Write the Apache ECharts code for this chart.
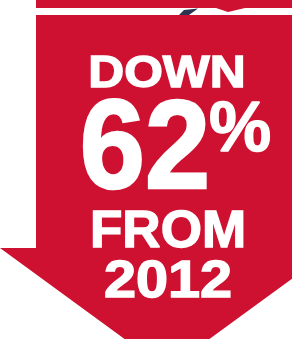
<!DOCTYPE html>
<html>
<head>
<meta charset="utf-8">
<script src="https://cdn.jsdelivr.net/npm/echarts@6/dist/echarts.min.js"></script>
<style>
  html, body { margin: 0; padding: 0; background: #fff; }
  #chart { width: 292px; height: 339px; }
</style>
</head>
<body>
<div id="chart"></div>
<script>
// values
var words = ['DOWN', 'FROM'];
var pctChange = [62];
var unit = ['%'];
var baseYear = [2012];

var RED = '#ce1130';
var NAVY = '#2b3552';
var FONT = '"Liberation Sans", Arial, Helvetica, sans-serif';

var chart = echarts.init(document.getElementById('chart'), null, { renderer: 'canvas' });

// helper: one line of white bold text, centred on (x, y)
// a thin white stroke makes the face look heavier, like the original
function label(text, x, y, size, sx, stroke) {
    return {
        type: 'text',
        x: x,
        y: y,
        scaleX: sx || 1,
        z: 10,
        style: {
            text: text,
            x: 0,
            y: 0,
            align: 'center',
            verticalAlign: 'middle',
            fill: '#fff',
            stroke: '#fff',
            lineWidth: stroke || 1.2,
            font: 'bold ' + size + 'px ' + FONT
        }
    };
}

var option = {
    animation: false,
    graphic: [
        // band at the top
        {
            type: 'rect',
            shape: { x: 36, y: 0, width: 260, height: 8 },
            style: { fill: RED }
        },
        // small navy wedge in the gap
        {
            type: 'polygon',
            shape: { points: [[179, 15], [184, 10], [198, 8.5], [189, 15]] },
            style: { fill: NAVY }
        },
        {
            type: 'polygon',
            shape: { points: [[216, 8], [228, 12], [245, 8]] },
            style: { fill: RED }
        },
        // the down arrow
        {
            type: 'polygon',
            shape: {
                points: [[36, 15], [298, 15], [298, 248], [334, 248],
                         [167, 370], [0, 248], [36, 248]]
            },
            style: { fill: RED }
        },
        label(words[0], 167, 75, 44, 1.13, 1.4),
        label(String(pctChange[0]), 145, 153, 126, 0.93, 2.5),
        label(unit[0], 240, 132, 70, 1, 1.4),
        label(words[1], 168, 233, 52, 1.02, 1.4),
        label(String(baseYear[0]), 168, 283, 51, 1.13, 1.4)
    ]
};

chart.setOption(option);
</script>
</body>
</html>
